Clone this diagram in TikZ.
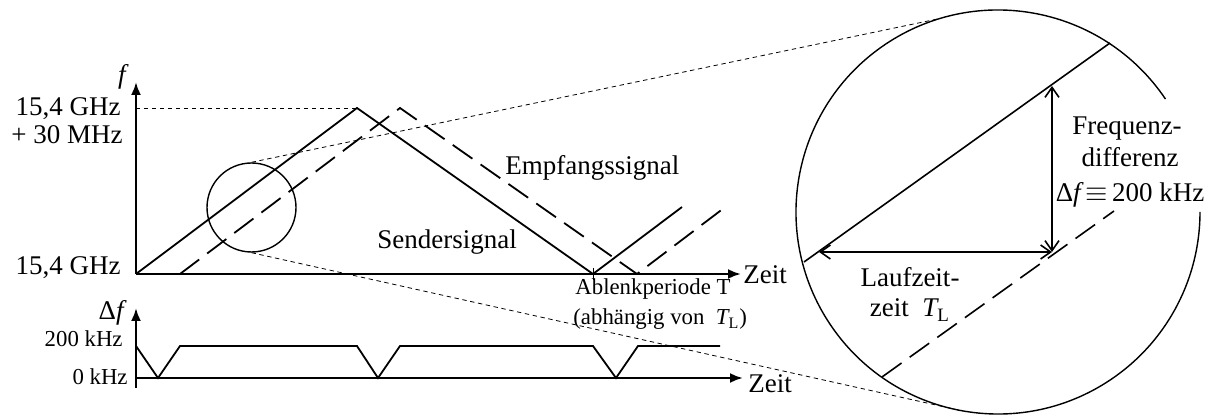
\documentclass[tikz,border=0pt]{standalone}
\usepackage{fontspec}
\setmainfont{Liberation Serif}
\usetikzlibrary{arrows.meta}
\begin{document}
\begin{tikzpicture}[x=0.5pt,y=-0.5pt,
  axis/.style={line width=1.2pt,-{Latex[length=6.5pt,width=5pt]}},
  sig/.style={line width=0.9pt},
  rec/.style={line width=0.9pt,dash pattern=on 12pt off 5pt},
  proj/.style={line width=0.4pt,dash pattern=on 2.2pt off 1.8pt},
  lbl/.style={font=\fontsize{13.5}{15}\selectfont,inner sep=0pt},
  slbl/.style={font=\fontsize{11.4}{13}\selectfont,inner sep=0pt},
  dimarrow/.style={line width=0.8pt,{Straight Barb[length=5pt,width=7pt]}-{Straight Barb[length=5pt,width=7pt]}}
]
\useasboundingbox (0,0) rectangle (1212,416);

% ---------- top chart ----------
\coordinate (O) at (136,274);
\coordinate (fTop) at (136,82);
\coordinate (tEnd) at (741,274);
\coordinate (fMax) at (136,108);
\draw[axis] (O) -- (fTop);
\draw[axis] (O) -- (tEnd);

\coordinate (s0) at (136,274);
\coordinate (s1) at (357,108);
\coordinate (s2) at (593,274);
\coordinate (s3) at (682,207);
\coordinate (r0) at (180,274);
\coordinate (r1) at (400,108);
\coordinate (r2) at (637,274);
\coordinate (r3) at (724,208);
\draw[sig] (s0) -- (s1) -- (s2) -- (s3);
\draw[rec] (r0) -- (r1) -- (r2) -- (r3);
\draw[proj] (fMax) -- (s1);
\draw[line width=0.4pt] (593,268) -- (593,280);

\node[lbl,anchor=base] (flab) at (122,84) {\itshape f};
\node[lbl,anchor=base east] (fmax1) at (121,116) {15,4 GHz};
\node[lbl,anchor=base east] (fmax2) at (123,144) {+ 30 MHz};
\node[lbl,anchor=base east] (fmin) at (121,275) {15,4 GHz};
\node[lbl,anchor=base west] (emp) at (505,175) {Empfangssignal};
\node[lbl,anchor=base west] (send) at (377,249) {Sendersignal};
\node[lbl,anchor=base west] (zeit1) at (743,284) {Zeit};
\node[slbl,anchor=base west] (ablenk) at (575,295) {Ablenkperiode T};
\node[slbl,anchor=base west] (abh) at (573,325) {(abhängig von\ \ {\itshape T}\textsubscript{L})};

% ---------- zoom circles ----------
\node[circle,draw,line width=0.7pt,minimum size=44.5pt,inner sep=0pt] (zoomS) at (251.5,207.5) {};
\coordinate (bigC) at (998,212);
\draw[line width=0.7pt] ([shift={(34:101pt)}]bigC) arc[start angle=34,end angle=360,radius=101pt];
\coordinate (pUp) at ([shift={(106.6:101pt)}]bigC);
\coordinate (pDn) at ([shift={(259.3:101pt)}]bigC);
\draw[proj] (zoomS.north) -- (pUp);
\draw[proj] (zoomS.south) -- (pDn);

\coordinate (zs0) at (804,262);
\coordinate (zs1) at (1110,43);
\coordinate (zr0) at (882,377);
\coordinate (zr1) at (1114,211);
\draw[line width=0.8pt] (zs0) -- (zs1);
\draw[line width=0.8pt,dash pattern=on 12pt off 5pt] (zr0) -- (zr1);

\coordinate (aTop) at (1052,86);
\coordinate (aCorner) at (1052,252);
\coordinate (aLeft) at (819,252);
\draw[dimarrow] (aTop) -- (aCorner);
\draw[dimarrow] (aLeft) -- (aCorner);

\node[lbl,anchor=base] (fd1) at (1127,135) {Frequenz-};
\node[lbl,anchor=base] (fd2) at (1130,167) {differenz};
\node[lbl,anchor=base] (fd3) at (1130,202) {Δ{\itshape f}\,$\equiv$\,200 kHz};
\node[lbl,anchor=base] (lz1) at (910,287) {Laufzeit-};
\node[lbl,anchor=base] (lz2) at (910,317) {zeit\ \ {\itshape T}\textsubscript{L}};

% ---------- bottom chart ----------
\coordinate (O2) at (136,378);
\coordinate (dBot) at (136,388);
\coordinate (dTop) at (136,308);
\coordinate (t2End) at (743,378);
\draw[axis] (dBot) -- (dTop);
\draw[axis] (O2) -- (t2End);
\draw[sig] (136,346) -- (158,378) -- (180,346) -- (357,346) -- (378,378) -- (400,346)
  -- (593,346) -- (616,378) -- (638,346) -- (720,346);

\node[lbl,anchor=base east] (dflab) at (124,320) {Δ{\itshape f}};
\node[slbl,anchor=base east] (k200) at (123,347) {200 kHz};
\node[slbl,anchor=base east] (k0) at (128,385) {0 kHz};
\node[lbl,anchor=base west] (zeit2) at (748,393) {Zeit};
\end{tikzpicture}
\end{document}
